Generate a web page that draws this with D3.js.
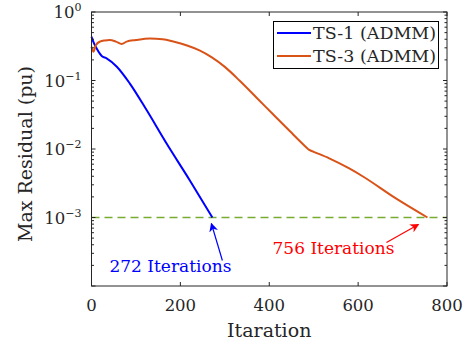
<!DOCTYPE html>
<html>
<head>
<meta charset="utf-8">
<script src="https://cdn.jsdelivr.net/npm/d3@7"></script>
<style>
  body { margin: 0; background: #fff; }
  svg text { font-family: "DejaVu Serif", serif; }
</style>
</head>
<body>
<svg id="chart" width="469" height="347"></svg>
<script>
// values
const ts1Iter = [0, 4, 12, 23, 34, 57, 86, 124, 169, 221, 272];
const ts1Res = [0.436, 0.37, 0.29, 0.228, 0.211, 0.159, 0.091, 0.037, 0.012, 0.0035, 0.001];
const ts3Iter = [0, 4, 10, 19, 30, 41, 55, 68, 79, 100, 131, 160, 184, 215, 243, 270, 300, 333, 371, 408, 445, 480, 490, 500, 535, 580, 610, 685, 756];
const ts3Res = [0.31, 0.263, 0.33, 0.37, 0.385, 0.39, 0.37, 0.341, 0.37, 0.39, 0.41, 0.4, 0.37, 0.324, 0.275, 0.219, 0.158, 0.1, 0.0566, 0.0324, 0.0186, 0.0111, 0.0097, 0.0091, 0.0073, 0.0052, 0.004, 0.0019, 0.001];
const tolerance = 1e-3;
const xTicks = [0, 200, 400, 600, 800];
const yTicks = [1e-4, 1e-3, 1e-2, 1e-1, 1e0];
const yTickExp = ['\u22124', '\u22123', '\u22122', '\u22121', '0'];
const seriesNames = ['TS-1 (ADMM)', 'TS-3 (ADMM)'];
const seriesColors = ['#0000ff', '#d95319'];
const notes = [
  { iter: 272, label: '272 Iterations', color: '#0000ff' },
  { iter: 756, label: '756 Iterations', color: '#ff0000' }
];

const margin = { left: 91.5, right: 22, top: 12, bottom: 61 };
const width = 469, height = 347;
const svg = d3.select('#chart');

const x = d3.scaleLinear().domain([0, 800]).range([margin.left, width - margin.right]);
const y = d3.scaleLog().domain([1e-4, 1e0]).range([height - margin.bottom, margin.top]);

const axisColor = '#262626';
const g = svg.append('g');

// minor ticks for log axis
const minor = [];
for (let e = -4; e < 0; e++) {
  for (let m = 2; m <= 9; m++) minor.push(m * Math.pow(10, e));
}

const x0 = x(0), x1 = x(800), y0 = y(1e-4), y1 = y(1);

// threshold line
g.append('line')
  .attr('x1', x(0)).attr('x2', x(800))
  .attr('y1', y(tolerance)).attr('y2', y(tolerance))
  .attr('stroke', '#77ac30').attr('stroke-width', 1.5)
  .attr('stroke-dasharray', '8,5');

// curves
const line = d3.line().x(d => x(d[0])).y(d => y(d[1])).curve(d3.curveMonotoneX);
[[ts1Iter, ts1Res], [ts3Iter, ts3Res]].forEach((s, i) => {
  const pts = s[0].map((v, k) => [v, s[1][k]]);
  g.append('path')
    .attr('d', line(pts))
    .attr('fill', 'none')
    .attr('stroke', seriesColors[i])
    .attr('stroke-width', 2)
    .attr('stroke-linejoin', 'round');
});

// axes box and ticks
const axes = svg.append('g').attr('stroke', axisColor).attr('stroke-width', 1);
axes.append('rect')
  .attr('x', x0).attr('y', y1).attr('width', x1 - x0).attr('height', y0 - y1)
  .attr('fill', 'none');

xTicks.forEach(t => {
  axes.append('line').attr('x1', x(t)).attr('x2', x(t)).attr('y1', y0).attr('y2', y0 - 4);
  axes.append('line').attr('x1', x(t)).attr('x2', x(t)).attr('y1', y1).attr('y2', y1 + 4);
});
yTicks.forEach(t => {
  axes.append('line').attr('x1', x0).attr('x2', x0 + 4).attr('y1', y(t)).attr('y2', y(t));
  axes.append('line').attr('x1', x1).attr('x2', x1 - 4).attr('y1', y(t)).attr('y2', y(t));
});
minor.forEach(t => {
  axes.append('line').attr('x1', x0).attr('x2', x0 + 2.5).attr('y1', y(t)).attr('y2', y(t));
  axes.append('line').attr('x1', x1).attr('x2', x1 - 2.5).attr('y1', y(t)).attr('y2', y(t));
});

// tick labels
svg.append('g').selectAll('text').data(xTicks).join('text')
  .attr('x', d => x(d)).attr('y', y0 + 25)
  .attr('text-anchor', 'middle').attr('font-size', 16.5).attr('fill', axisColor)
  .text(d => d);

const yl = svg.append('g').selectAll('text').data(yTicks.slice(1)).join('text')
  .attr('x', x0 - 10).attr('y', d => y(d) + 6)
  .attr('text-anchor', 'end').attr('font-size', 16.5).attr('fill', axisColor);
yl.append('tspan').text('10');
yl.append('tspan').attr('dy', -7).attr('font-size', 11)
  .text((d, i) => yTickExp[i + 1]);

// axis labels
svg.append('text')
  .attr('x', (x0 + x1) / 2).attr('y', 337)
  .attr('text-anchor', 'middle').attr('font-size', 19).attr('fill', axisColor)
  .text('Itaration');
svg.append('text')
  .attr('transform', `translate(32,${(y0 + y1) / 2 + 5}) rotate(-90)`)
  .attr('text-anchor', 'middle').attr('font-size', 19).attr('fill', axisColor)
  .text('Max Residual (pu)');

// legend
const leg = svg.append('g');
leg.append('rect').attr('x', 273.5).attr('y', 21.5).attr('width', 165).attr('height', 47)
  .attr('fill', '#fff').attr('stroke', '#000').attr('stroke-width', 1);
seriesNames.forEach((n, i) => {
  const ly = 33 + i * 23;
  leg.append('line').attr('x1', 277).attr('x2', 311).attr('y1', ly).attr('y2', ly)
    .attr('stroke', seriesColors[i]).attr('stroke-width', 2);
  leg.append('text').attr('x', 313).attr('y', ly + 6).attr('font-size', 17.5)
    .attr('fill', axisColor).text(n);
});

// annotations with arrows
const defs = svg.append('defs');
notes.forEach((n, i) => {
  defs.append('marker').attr('id', 'arr' + i)
    .attr('viewBox', '0 0 10 10').attr('refX', 9).attr('refY', 5)
    .attr('markerWidth', 9).attr('markerHeight', 9).attr('orient', 'auto')
    .attr('markerUnits', 'userSpaceOnUse')
    .append('path').attr('d', 'M0,0 L10,5 L0,10 L3,5 Z').attr('fill', n.color);
});
const px1 = x(notes[0].iter), py = y(tolerance);
svg.append('line')
  .attr('x1', px1 + 10).attr('y1', py + 43)
  .attr('x2', px1 - 1).attr('y2', py + 6)
  .attr('stroke', notes[0].color).attr('stroke-width', 1.2)
  .attr('marker-end', 'url(#arr0)');
svg.append('text').attr('x', px1 + 19).attr('y', py + 54)
  .attr('text-anchor', 'end').attr('font-size', 17)
  .attr('fill', notes[0].color).text(notes[0].label);

const px2 = x(notes[1].iter);
svg.append('line')
  .attr('x1', px2 - 41).attr('y1', py + 25)
  .attr('x2', px2 - 9).attr('y2', py + 7)
  .attr('stroke', notes[1].color).attr('stroke-width', 1.2)
  .attr('marker-end', 'url(#arr1)');
svg.append('text').attr('x', px2 - 33).attr('y', py + 36)
  .attr('text-anchor', 'end').attr('font-size', 17)
  .attr('fill', notes[1].color).text(notes[1].label);
</script>
</body>
</html>
